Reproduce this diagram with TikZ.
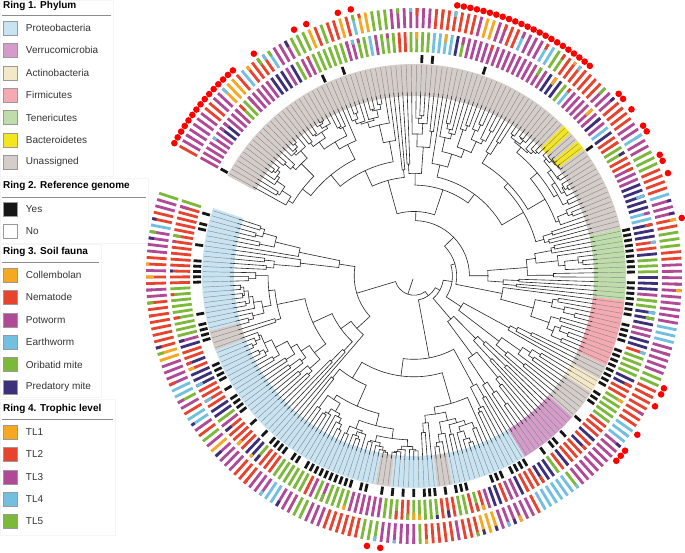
\documentclass[tikz,border=0pt]{standalone}
\usepackage{fontspec}
\setmainfont{Liberation Sans}
\usepackage{tikz}
\usetikzlibrary{positioning}

\definecolor{proteo}{HTML}{C8E4F2}
\definecolor{verru}{HTML}{D59BCB}
\definecolor{actino}{HTML}{F3E8C8}
\definecolor{firmi}{HTML}{F5A9B0}
\definecolor{teneri}{HTML}{BEDDAA}
\definecolor{bactero}{HTML}{F4E61E}
\definecolor{unassig}{HTML}{D4CDC9}
\definecolor{cCol}{HTML}{F7A823}
\definecolor{cNem}{HTML}{E8432E}
\definecolor{cPot}{HTML}{B04A97}
\definecolor{cEar}{HTML}{72BFE0}
\definecolor{cOri}{HTML}{7CB83A}
\definecolor{cPred}{HTML}{3B3079}
\definecolor{refyes}{HTML}{161616}
\definecolor{dotred}{HTML}{FF0000}

% leaf layout: angle of leaf i is \Astart - i*\dang (clockwise)
\def\Astart{151}
\def\dang{1.4016}
\def\Rtip{184}
\def\Rtipend{211}
\def\Rin{180}
\def\Rout{212}
\def\cladebounds{40,98,112,125,137,149,200}

\tikzset{
  branch/.style={line width=0.6pt, black!85, line cap=round},
  tipline/.style={line width=0.45pt, black!45},
  ringbar/.style={line width=2.8pt},
  legbox/.style={draw=black!40, line width=0.5pt, minimum size=14pt, inner sep=0pt},
  legtext/.style={anchor=west, inner sep=0pt, font=\fontsize{10}{12}\selectfont, text=black!80},
  leghead/.style={anchor=west, inner sep=0pt, font=\fontsize{10}{12}\selectfont\bfseries},
  legpanel/.style={draw=black!4, fill=white}
}

% one clade over leaves #1..#2, hanging from radius #3
\newcommand\drawclade[3]{%
  \begingroup
  \edef\lo{#1}\edef\hi{#2}\edef\rp{#3}%
  \ifnum\lo=\hi\relax
    \pgfmathsetmacro\ang{\Astart-\lo*\dang}%
    \draw[branch] (\ang:\rp) -- (\ang:\Rtip);
    \draw[tipline] (\ang:\Rtip) -- (\ang:\Rtipend);
    \xdef\retang{\ang}%
  \else
    \gdef\fsplit{-1}%
    \foreach \s in \cladebounds {\ifnum\s<\lo\relax\else\ifnum\s<\hi\relax\xdef\fsplit{\s}\fi\fi}%
    \ifnum\fsplit<0\relax
      \pgfmathtruncatemacro\spl{min(\lo+floor(rnd*(\hi-\lo)),\hi-1)}%
      \pgfmathsetmacro\rr{\rp+(\Rtip-\rp)*(0.08+0.34*rnd)}%
    \else
      \let\spl\fsplit
      \pgfmathsetmacro\rr{\rp+(\Rtip-\rp)*(0.02+0.08*rnd)}%
    \fi
    \pgfmathtruncatemacro\spr{\spl+1}%
    \drawclade{\lo}{\spl}{\rr}\let\angA\retang
    \drawclade{\spr}{\hi}{\rr}\let\angB\retang
    \pgfmathsetmacro\ang{(\angA+\angB)/2}%
    \draw[branch] (\angA:\rr) arc[start angle=\angA, end angle=\angB, radius=\rr];
    \draw[branch] (\ang:\rp) -- (\ang:\rr);
    \xdef\retang{\ang}%
  \fi
  \endgroup}

% colour pickers for the fauna and trophic rings
\newcommand\pickthree[1]{%
  \pgfmathtruncatemacro\k{floor(rnd*5.99)}%
  \ifnum#1<22
    \pgfmathsetmacro\cc{{"cPot","cPot","cPot","cPred","cPot","cOri"}[\k]}%
  \else\ifnum#1<99
    \pgfmathsetmacro\cc{{"cPot","cPred","cOri","cNem","cEar","cPot"}[\k]}%
  \else\ifnum#1<132
    \pgfmathsetmacro\cc{{"cPred","cOri","cOri","cNem","cPred","cPot"}[\k]}%
  \else
    \pgfmathsetmacro\cc{{"cOri","cNem","cPred","cPot","cNem","cOri"}[\k]}%
  \fi\fi\fi
  \xdef\cthree{\cc}}
\newcommand\pickfour{%
  \pgfmathsetmacro\u{rnd}%
  \pgfmathtruncatemacro\k{(\u>0.36)+(\u>0.72)+(\u>0.82)+(\u>0.94)}%
  \pgfmathsetmacro\cc{{"cNem","cPot","cOri","cEar","cCol"}[\k]}%
  \xdef\cfour{\cc}}
\newcommand\pickany{%
  \pgfmathtruncatemacro\k{floor(rnd*5.99)}%
  \pgfmathsetmacro\cc{{"cPot","cPred","cOri","cNem","cEar","cCol"}[\k]}%
  \xdef\cany{\cc}}

\begin{document}
\begin{tikzpicture}[x=1pt,y=1pt]
\useasboundingbox (0,0) rectangle (685,552);
\fill[white] (0,0) rectangle (685,552);
\pgfmathsetseed{7}

% legend
\draw[legpanel] (0,376) rectangle (113,552);
\draw[legpanel] (0,309) rectangle (148,374);
\draw[legpanel] (0,155) rectangle (101,308);
\draw[legpanel] (0,17) rectangle (115,153);

\node[leghead] (head1) at (3,546) {Ring 1. Phylum};
\draw[black!45] (2,537) -- (111,537);
\foreach \lab/\col [count=\n] in {Proteobacteria/proteo, Verrucomicrobia/verru, Actinobacteria/actino,
    Firmicutes/firmi, Tenericutes/teneri, Bacteroidetes/bactero, Unassigned/unassig}{
  \pgfmathsetmacro\yy{524-(\n-1)*22.4}
  \node[legbox, fill=\col] (phybox\n) at (10.5,\yy) {};
  \node[legtext, right=8pt of phybox\n] (phylab\n) {\lab};
}

\node[leghead] (head2) at (3,366) {Ring 2. Reference genome};
\draw[black!45] (2,355) -- (146,355);
\foreach \lab/\col [count=\n] in {Yes/refyes, No/white}{
  \pgfmathsetmacro\yy{343-(\n-1)*22.4}
  \node[legbox, fill=\col] (refbox\n) at (10.5,\yy) {};
  \node[legtext, right=8pt of refbox\n] (reflab\n) {\lab};
}

\node[leghead] (head3) at (3,300) {Ring 3. Soil fauna};
\draw[black!45] (2,290) -- (99,290);
\foreach \lab/\col [count=\n] in {Collembolan/cCol, Nematode/cNem, Potworm/cPot,
    Earthworm/cEar, Oribatid mite/cOri, Predatory mite/cPred}{
  \pgfmathsetmacro\yy{277-(\n-1)*22.4}
  \node[legbox, fill=\col] (faubox\n) at (10.5,\yy) {};
  \node[legtext, right=8pt of faubox\n] (faulab\n) {\lab};
}

\node[leghead] (head4) at (3,143) {Ring 4. Trophic level};
\draw[black!45] (2,133) -- (113,133);
\foreach \lab/\col [count=\n] in {TL1/cCol, TL2/cNem, TL3/cPot, TL4/cEar, TL5/cOri}{
  \pgfmathsetmacro\yy{120-(\n-1)*22.4}
  \node[legbox, fill=\col] (tlbox\n) at (10.5,\yy) {};
  \node[legtext, right=8pt of tlbox\n] (tllab\n) {\lab};
}

\begin{scope}[shift={(414,276)}]
% ring 1: phylum bands
\foreach \first/\last/\phy in {0/75/unassig, 76/77/bactero, 78/79/unassig, 80/81/bactero,
    82/98/unassig, 99/112/teneri, 113/125/firmi, 126/128/unassig, 129/131/actino,
    132/137/unassig, 138/149/verru, 150/164/proteo, 165/167/unassig, 168/176/proteo,
    177/179/unassig, 180/221/proteo, 222/225/unassig, 226/249/proteo}{
  \pgfmathsetmacro\ta{\Astart-\first*\dang+\dang/2}
  \pgfmathsetmacro\tb{\Astart-\last*\dang-\dang/2}
  \fill[\phy] (\ta:\Rin) arc[start angle=\ta, end angle=\tb, radius=\Rin]
    -- (\tb:\Rout) arc[start angle=\tb, end angle=\ta, radius=\Rout] -- cycle;
}

% the tree
\drawclade{0}{249}{3}

% rings 2-4
\gdef\cthree{cPot}\gdef\cfour{cNem}
\foreach \i in {0,...,249}{
  \pgfmathsetmacro\ang{\Astart-\i*\dang}
  \pgfmathsetmacro\pref{(\i<99)*0.1+and(\i>98,\i<132)*0.75+and(\i>131,\i<150)*0.35+(\i>149)*0.6}
  \pgfmathtruncatemacro\isref{rnd<\pref}
  \ifnum\isref=1 \draw[ringbar, refyes] (\ang:213) -- (\ang:221);\fi
  \pgfmathtruncatemacro\keep{rnd<0.5}
  \ifnum\keep=0 \pickthree{\i}\fi
  \draw[ringbar, \cthree] (\ang:224) -- (\ang:244);
  \pgfmathtruncatemacro\extra{rnd<0.3}
  \ifnum\extra=1 \pickany\pgfmathsetmacro\rs{244-3-6*rnd}\draw[ringbar, \cany] (\ang:\rs) -- (\ang:244);\fi
  \pgfmathtruncatemacro\keep{rnd<0.45}
  \ifnum\keep=0 \pickfour\fi
  \draw[ringbar, \cfour] (\ang:248) -- (\ang:268);
  \pgfmathtruncatemacro\extra{rnd<0.25}
  \ifnum\extra=1 \pickany\pgfmathsetmacro\rs{268-3-5*rnd}\draw[ringbar, \cany] (\ang:\rs) -- (\ang:268);\fi
}

% red dots
\foreach \i in {0,...,14}{\pgfmathsetmacro\ang{\Astart-\i*\dang}\fill[dotred] (\ang:274) circle[radius=3.3];}
\foreach \i in {50,...,72}{\pgfmathsetmacro\ang{\Astart-\i*\dang}\fill[dotred] (\ang:274) circle[radius=3.3];}
\foreach \i in {18,25,27,32,34,78,79,81,84,85,89,90,92,99,125,126,128,133,136,137,138,177,179}{
  \pgfmathsetmacro\ang{\Astart-\i*\dang}\fill[dotred] (\ang:274) circle[radius=3.3];}
\end{scope}
\end{tikzpicture}
\end{document}
